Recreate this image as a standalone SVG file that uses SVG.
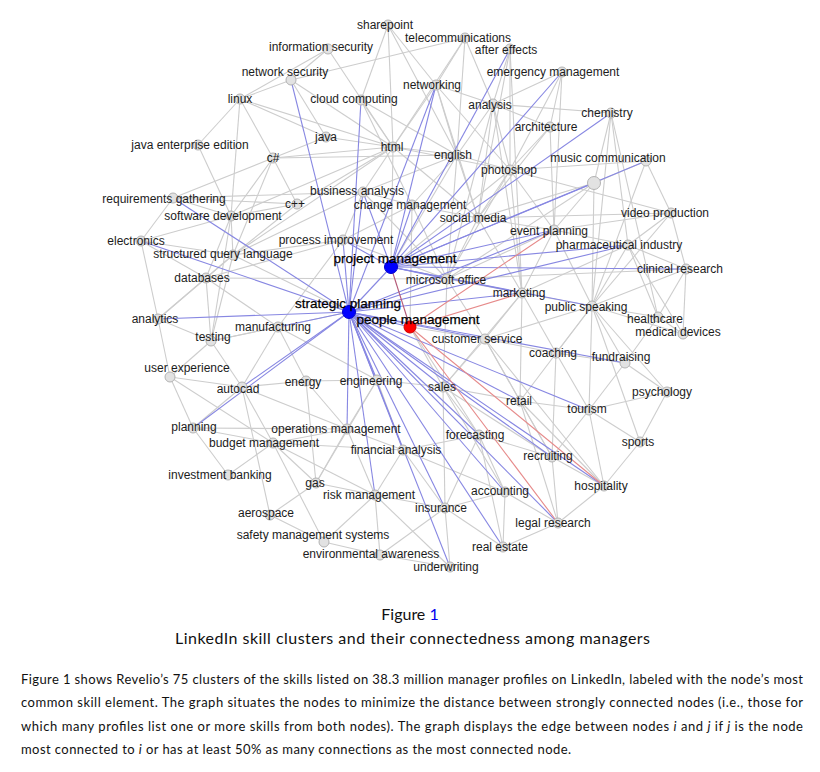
<svg xmlns="http://www.w3.org/2000/svg" width="820" height="772" viewBox="0 0 820 772">
<style>
.e path{stroke:#cdcdcd;stroke-width:1.1;fill:none}
.b path{stroke:#8787e2;stroke-width:1.1;fill:none}
.r path{stroke:#e68a8a;stroke-width:1.1;fill:none}
.n circle{fill:#e2e2e2;stroke:#b3b3b3;stroke-width:1}
.n text{font-family:"Liberation Sans",Arial,sans-serif;font-size:12px;fill:#1c1c1c;text-anchor:middle}
.hub text{font-size:13.5px;fill:#000;stroke:#000;stroke-width:0.25}
.cap{font-family:Lato,"Open Sans",sans-serif;fill:#111}
</style>
<rect width="820" height="772" fill="#fff"/>
<g id="connectors">
<g class="e">
<path d="M388 25L436 85"/><path d="M388 25L393 147"/><path d="M388 25L361 100"/><path d="M388 25L457 155"/>
<path d="M465 38L291 80"/><path d="M465 38L436 85"/><path d="M465 38L493 104"/><path d="M465 38L457 155"/><path d="M465 38L393 147"/>
<path d="M328 49L240 99"/><path d="M328 49L291 80"/><path d="M328 49L393 147"/>
<path d="M291 80L240 99"/><path d="M291 80L393 147"/><path d="M291 80L326 137"/>
<path d="M240 99L198 145"/><path d="M240 99L273 158"/><path d="M240 99L326 137"/><path d="M240 99L393 147"/><path d="M240 99L231 216"/>
<path d="M361 100L393 147"/><path d="M361 100L457 155"/><path d="M361 100L412 205"/>
<path d="M326 137L393 147"/><path d="M326 137L273 158"/><path d="M198 145L231 216"/>
<path d="M393 147L273 158"/><path d="M393 147L457 155"/><path d="M393 147L510 170"/><path d="M393 147L478 218"/><path d="M393 147L297 204"/><path d="M393 147L233 255"/><path d="M393 147L231 216"/><path d="M393 147L436 85"/><path d="M393 147L363 192"/>
<path d="M273 158L297 204"/><path d="M273 158L231 216"/><path d="M273 158L233 255"/><path d="M273 158L173 198"/><path d="M273 158L457 155"/>
<path d="M436 85L457 155"/><path d="M436 85L493 104"/><path d="M436 85L510 170"/><path d="M436 85L478 218"/>
<path d="M510 49L510 170"/><path d="M510 49L493 104"/><path d="M510 49L478 218"/><path d="M510 49L522 293"/>
<path d="M562 72L550 127"/><path d="M562 72L493 104"/><path d="M562 72L554 230"/><path d="M562 72L510 170"/>
<path d="M493 104L611 113"/><path d="M493 104L550 127"/><path d="M493 104L457 155"/><path d="M493 104L510 170"/><path d="M493 104L522 293"/><path d="M493 104L447 279"/><path d="M493 104L478 218"/>
<path d="M550 127L510 170"/><path d="M550 127L554 230"/><path d="M550 127L478 218"/>
<path d="M611 113L628 245"/><path d="M611 113L594 183"/><path d="M611 113L592 306"/><path d="M611 113L658 317"/>
<path d="M646 161L594 183"/><path d="M646 161L671 213"/><path d="M646 161L592 306"/><path d="M646 161L510 170"/>
<path d="M594 183L592 306"/><path d="M594 183L554 230"/><path d="M594 183L447 279"/><path d="M594 183L478 218"/>
<path d="M510 170L457 155"/><path d="M510 170L478 218"/><path d="M510 170L554 230"/><path d="M510 170L522 293"/><path d="M510 170L447 279"/><path d="M510 170L671 213"/>
<path d="M457 155L478 218"/><path d="M457 155L412 205"/><path d="M457 155L447 279"/><path d="M457 155L363 192"/>
<path d="M363 192L412 205"/><path d="M363 192L343 240"/><path d="M363 192L233 255"/><path d="M363 192L173 198"/><path d="M363 192L447 279"/>
<path d="M297 204L231 216"/><path d="M297 204L233 255"/><path d="M297 204L173 198"/>
<path d="M412 205L343 240"/><path d="M412 205L478 218"/><path d="M412 205L447 279"/><path d="M412 205L410 327"/>
<path d="M231 216L173 198"/><path d="M231 216L233 255"/><path d="M231 216L206 278"/><path d="M231 216L141 241"/><path d="M231 216L211 341"/>
<path d="M478 218L554 230"/><path d="M478 218L522 293"/><path d="M478 218L447 279"/>
<path d="M671 213L686 269"/><path d="M671 213L628 245"/><path d="M671 213L592 306"/><path d="M671 213L554 230"/><path d="M671 213L478 218"/>
<path d="M554 230L628 245"/><path d="M554 230L522 293"/><path d="M554 230L592 306"/><path d="M554 230L447 279"/>
<path d="M141 241L233 255"/><path d="M141 241L173 198"/><path d="M141 241L206 278"/><path d="M141 241L158 319"/>
<path d="M343 240L233 255"/><path d="M343 240L447 279"/><path d="M343 240L278 327"/><path d="M343 240L206 278"/>
<path d="M628 245L686 269"/><path d="M628 245L683 334"/><path d="M628 245L658 317"/><path d="M628 245L592 306"/><path d="M628 245L522 293"/>
<path d="M233 255L206 278"/><path d="M233 255L158 319"/><path d="M233 255L211 341"/>
<path d="M686 269L658 317"/><path d="M686 269L683 334"/><path d="M686 269L592 306"/><path d="M686 269L447 279"/>
<path d="M206 278L158 319"/><path d="M206 278L211 341"/><path d="M206 278L278 327"/><path d="M206 278L447 279"/>
<path d="M447 279L522 293"/><path d="M447 279L485 339"/><path d="M447 279L443 387"/>
<path d="M522 293L485 339"/><path d="M522 293L592 306"/><path d="M522 293L443 387"/><path d="M522 293L556 353"/><path d="M522 293L520 401"/>
<path d="M592 306L556 353"/><path d="M592 306L625 363"/><path d="M592 306L658 317"/><path d="M592 306L667 392"/><path d="M592 306L640 442"/><path d="M592 306L589 410"/><path d="M592 306L485 339"/><path d="M592 306L683 334"/><path d="M592 306L520 401"/>
<path d="M658 317L683 334"/><path d="M658 317L625 363"/>
<path d="M158 319L211 341"/><path d="M158 319L170 377"/>
<path d="M278 327L211 341"/><path d="M278 327L377 380"/><path d="M278 327L242 387"/><path d="M278 327L306 381"/>
<path d="M211 341L170 377"/><path d="M211 341L242 387"/>
<path d="M485 339L443 387"/><path d="M485 339L556 353"/><path d="M485 339L520 401"/><path d="M485 339L552 457"/><path d="M485 339L604 486"/>
<path d="M556 353L625 363"/><path d="M556 353L589 410"/><path d="M556 353L552 457"/>
<path d="M625 363L667 392"/><path d="M625 363L589 410"/>
<path d="M170 377L242 387"/><path d="M170 377L193 428"/><path d="M170 377L273 443"/>
<path d="M242 387L306 381"/><path d="M242 387L193 428"/><path d="M242 387L273 443"/><path d="M242 387L347 429"/><path d="M242 387L270 515"/>
<path d="M306 381L377 380"/><path d="M306 381L316 483"/><path d="M306 381L347 429"/>
<path d="M377 380L347 429"/><path d="M377 380L403 450"/><path d="M377 380L443 387"/><path d="M377 380L316 483"/>
<path d="M443 387L520 401"/><path d="M443 387L479 435"/><path d="M443 387L552 457"/><path d="M443 387L505 492"/><path d="M443 387L445 508"/>
<path d="M667 392L589 410"/><path d="M667 392L640 442"/>
<path d="M520 401L589 410"/><path d="M520 401L552 457"/><path d="M520 401L604 486"/><path d="M520 401L558 523"/>
<path d="M589 410L640 442"/><path d="M589 410L604 486"/><path d="M589 410L552 457"/>
<path d="M193 428L273 443"/><path d="M193 428L228 475"/><path d="M193 428L347 429"/>
<path d="M347 429L403 450"/><path d="M347 429L273 443"/><path d="M347 429L316 483"/><path d="M347 429L375 495"/>
<path d="M479 435L403 450"/><path d="M479 435L505 492"/><path d="M479 435L552 457"/><path d="M479 435L445 508"/><path d="M479 435L503 547"/>
<path d="M640 442L604 486"/>
<path d="M273 443L403 450"/><path d="M273 443L228 475"/><path d="M273 443L316 483"/><path d="M273 443L375 495"/><path d="M273 443L324 542"/>
<path d="M403 450L375 495"/><path d="M403 450L505 492"/><path d="M403 450L445 508"/>
<path d="M552 457L604 486"/><path d="M552 457L558 523"/>
<path d="M316 483L270 515"/><path d="M316 483L375 495"/>
<path d="M604 486L558 523"/>
<path d="M505 492L445 508"/><path d="M505 492L558 523"/><path d="M505 492L503 547"/>
<path d="M375 495L445 508"/><path d="M375 495L380 555"/><path d="M375 495L324 542"/><path d="M375 495L450 567"/>
<path d="M445 508L450 567"/><path d="M445 508L503 547"/><path d="M445 508L380 555"/>
<path d="M270 515L324 542"/><path d="M324 542L380 555"/><path d="M380 555L450 567"/><path d="M503 547L558 523"/>
<path d="M349 312L211 341"/><path d="M349 312L233 255"/><path d="M410 327L485 339"/><path d="M410 327L443 387"/><path d="M410 327L479 435"/>
<path d="M391 267L393 147"/><path d="M391 267L457 155"/><path d="M391 267L510 170"/>
</g>
<g class="b">
<path d="M349 312L291 80"/><path d="M349 312L361 100"/><path d="M349 312L173 198"/><path d="M349 312L141 241"/><path d="M349 312L158 319"/><path d="M349 312L193 428"/><path d="M349 312L242 387"/><path d="M349 312L278 327"/><path d="M349 312L625 363"/><path d="M349 312L347 429"/><path d="M349 312L403 450"/><path d="M349 312L375 495"/><path d="M349 312L445 508"/><path d="M349 312L505 492"/><path d="M349 312L503 547"/><path d="M349 312L558 523"/><path d="M349 312L552 457"/><path d="M349 312L604 486"/><path d="M349 312L520 401"/><path d="M349 312L443 387"/><path d="M349 312L479 435"/><path d="M349 312L377 380"/><path d="M349 312L485 339"/><path d="M349 312L522 293"/><path d="M349 312L447 279"/><path d="M349 312L343 240"/><path d="M349 312L363 192"/><path d="M349 312L436 85"/><path d="M349 312L391 267"/><path d="M349 312L410 327"/><path d="M349 312L628 245"/><path d="M349 312L554 230"/><path d="M349 312L450 567"/><path d="M349 312L589 410"/>
<path d="M391 267L510 49"/><path d="M391 267L562 72"/><path d="M391 267L611 113"/><path d="M391 267L594 183"/><path d="M391 267L436 85"/><path d="M391 267L554 230"/><path d="M391 267L628 245"/><path d="M391 267L686 269"/><path d="M391 267L478 218"/><path d="M391 267L412 205"/><path d="M391 267L363 192"/><path d="M391 267L447 279"/><path d="M391 267L343 240"/><path d="M391 267L522 293"/><path d="M391 267L592 306"/><path d="M391 267L646 161"/>
</g>
<g class="r">
<path d="M391 267L410 327" style="stroke:#b45a78"/><path d="M410 327L554 230"/><path d="M410 327L522 293"/><path d="M410 327L558 523"/><path d="M410 327L604 486"/>
</g>
</g>
<g id="nodes" class="n">
<g id="n-sharepoint"><circle cx="388" cy="25" r="5"/><text x="385" y="29">sharepoint</text></g>
<g id="n-telecommunications"><circle cx="465" cy="38" r="5"/><text x="458" y="42">telecommunications</text></g>
<g id="n-information-security"><circle cx="328" cy="49" r="5"/><text x="321" y="51">information security</text></g>
<g id="n-after-effects"><circle cx="510" cy="49" r="5"/><text x="506" y="54">after effects</text></g>
<g id="n-network-security"><circle cx="291" cy="80" r="5"/><text x="285" y="76">network security</text></g>
<g id="n-emergency-management"><circle cx="562" cy="72" r="5"/><text x="553" y="76">emergency management</text></g>
<g id="n-networking"><circle cx="436" cy="85" r="5"/><text x="432" y="89">networking</text></g>
<g id="n-linux"><circle cx="240" cy="99" r="5"/><text x="240" y="103">linux</text></g>
<g id="n-cloud-computing"><circle cx="361" cy="100" r="5"/><text x="354" y="103">cloud computing</text></g>
<g id="n-analysis"><circle cx="493" cy="104" r="5"/><text x="490" y="109">analysis</text></g>
<g id="n-chemistry"><circle cx="611" cy="113" r="5"/><text x="607" y="117">chemistry</text></g>
<g id="n-architecture"><circle cx="550" cy="127" r="5"/><text x="546" y="131">architecture</text></g>
<g id="n-java"><circle cx="326" cy="137" r="5"/><text x="326" y="141">java</text></g>
<g id="n-java-enterprise-edition"><circle cx="198" cy="145" r="5"/><text x="190" y="149">java enterprise edition</text></g>
<g id="n-html"><circle cx="393" cy="147" r="5"/><text x="392" y="151">html</text></g>
<g id="n-csharp"><circle cx="273" cy="158" r="5"/><text x="273" y="162">c#</text></g>
<g id="n-english"><circle cx="457" cy="155" r="5"/><text x="453" y="159">english</text></g>
<g id="n-music-communication"><circle cx="646" cy="161" r="5"/><text x="608" y="162">music communication</text></g>
<g id="n-photoshop"><circle cx="510" cy="170" r="5"/><text x="509" y="174">photoshop</text></g>
<g id="n-unlabeled"><circle cx="594" cy="183" r="6.5"/></g>
<g id="n-business-analysis"><circle cx="363" cy="192" r="5"/><text x="357" y="195">business analysis</text></g>
<g id="n-requirements-gathering"><circle cx="173" cy="198" r="5"/><text x="164" y="203">requirements gathering</text></g>
<g id="n-cpp"><circle cx="297" cy="204" r="5"/><text x="295" y="208">c++</text></g>
<g id="n-change-management"><circle cx="412" cy="205" r="5"/><text x="410" y="209">change management</text></g>
<g id="n-software-development"><circle cx="231" cy="216" r="5"/><text x="223" y="220">software development</text></g>
<g id="n-social-media"><circle cx="478" cy="218" r="5"/><text x="473" y="222">social media</text></g>
<g id="n-video-production"><circle cx="671" cy="213" r="5"/><text x="665" y="217">video production</text></g>
<g id="n-event-planning"><circle cx="554" cy="230" r="5"/><text x="549" y="235">event planning</text></g>
<g id="n-electronics"><circle cx="141" cy="241" r="5"/><text x="136" y="245">electronics</text></g>
<g id="n-process-improvement"><circle cx="343" cy="240" r="5"/><text x="336" y="244">process improvement</text></g>
<g id="n-pharmaceutical-industry"><circle cx="628" cy="245" r="5"/><text x="619" y="249">pharmaceutical industry</text></g>
<g id="n-structured-query-language"><circle cx="233" cy="255" r="5"/><text x="223" y="258">structured query language</text></g>
<g id="n-clinical-research"><circle cx="686" cy="269" r="5"/><text x="680" y="273">clinical research</text></g>
<g id="n-databases"><circle cx="206" cy="278" r="5"/><text x="202" y="282">databases</text></g>
<g id="n-microsoft-office"><circle cx="447" cy="279" r="5"/><text x="446" y="284">microsoft office</text></g>
<g id="n-marketing"><circle cx="522" cy="293" r="5"/><text x="519" y="297">marketing</text></g>
<g id="n-public-speaking"><circle cx="592" cy="306" r="5"/><text x="586" y="311">public speaking</text></g>
<g id="n-analytics"><circle cx="158" cy="319" r="5"/><text x="155" y="323">analytics</text></g>
<g id="n-healthcare"><circle cx="658" cy="317" r="5"/><text x="655" y="323">healthcare</text></g>
<g id="n-manufacturing"><circle cx="278" cy="327" r="5"/><text x="273" y="331">manufacturing</text></g>
<g id="n-medical-devices"><circle cx="683" cy="334" r="5"/><text x="678" y="336">medical devices</text></g>
<g id="n-testing"><circle cx="211" cy="341" r="5"/><text x="213" y="341">testing</text></g>
<g id="n-customer-service"><circle cx="485" cy="339" r="5"/><text x="477" y="343">customer service</text></g>
<g id="n-coaching"><circle cx="556" cy="353" r="5"/><text x="553" y="357">coaching</text></g>
<g id="n-fundraising"><circle cx="625" cy="363" r="5"/><text x="621" y="361">fundraising</text></g>
<g id="n-user-experience"><circle cx="170" cy="377" r="5"/><text x="187" y="372">user experience</text></g>
<g id="n-autocad"><circle cx="242" cy="387" r="5"/><text x="238" y="393">autocad</text></g>
<g id="n-energy"><circle cx="306" cy="381" r="5"/><text x="303" y="386">energy</text></g>
<g id="n-engineering"><circle cx="377" cy="380" r="5"/><text x="371" y="385">engineering</text></g>
<g id="n-sales"><circle cx="443" cy="387" r="5"/><text x="442" y="391">sales</text></g>
<g id="n-psychology"><circle cx="667" cy="392" r="5"/><text x="662" y="396">psychology</text></g>
<g id="n-retail"><circle cx="520" cy="401" r="5"/><text x="519" y="405">retail</text></g>
<g id="n-tourism"><circle cx="589" cy="410" r="5"/><text x="587" y="413">tourism</text></g>
<g id="n-planning"><circle cx="193" cy="428" r="5"/><text x="194" y="431">planning</text></g>
<g id="n-operations-management"><circle cx="347" cy="429" r="5"/><text x="336" y="433">operations management</text></g>
<g id="n-forecasting"><circle cx="479" cy="435" r="5"/><text x="475" y="439">forecasting</text></g>
<g id="n-sports"><circle cx="640" cy="442" r="5"/><text x="638" y="446">sports</text></g>
<g id="n-budget-management"><circle cx="273" cy="443" r="5"/><text x="264" y="447">budget management</text></g>
<g id="n-financial-analysis"><circle cx="403" cy="450" r="5"/><text x="396" y="454">financial analysis</text></g>
<g id="n-recruiting"><circle cx="552" cy="457" r="5"/><text x="548" y="460">recruiting</text></g>
<g id="n-investment-banking"><circle cx="228" cy="475" r="5"/><text x="220" y="479">investment banking</text></g>
<g id="n-gas"><circle cx="316" cy="483" r="5"/><text x="315" y="487">gas</text></g>
<g id="n-hospitality"><circle cx="604" cy="486" r="5"/><text x="601" y="490">hospitality</text></g>
<g id="n-accounting"><circle cx="505" cy="492" r="5"/><text x="500" y="495">accounting</text></g>
<g id="n-risk-management"><circle cx="375" cy="495" r="5"/><text x="369" y="499">risk management</text></g>
<g id="n-insurance"><circle cx="445" cy="508" r="5"/><text x="441" y="512">insurance</text></g>
<g id="n-aerospace"><circle cx="270" cy="515" r="5"/><text x="266" y="517">aerospace</text></g>
<g id="n-legal-research"><circle cx="558" cy="523" r="5"/><text x="553" y="527">legal research</text></g>
<g id="n-safety-management-systems"><circle cx="324" cy="542" r="5"/><text x="313" y="539">safety management systems</text></g>
<g id="n-real-estate"><circle cx="503" cy="547" r="5"/><text x="500" y="551">real estate</text></g>
<g id="n-environmental-awareness"><circle cx="380" cy="555" r="5"/><text x="371" y="558">environmental awareness</text></g>
<g id="n-underwriting"><circle cx="450" cy="567" r="5"/><text x="446" y="571">underwriting</text></g>
<g id="n-project-management" class="hub"><circle cx="391" cy="267" r="6.5" style="fill:#0000ff;stroke:#0000cc"/><text x="395" y="263">project management</text></g>
<g id="n-strategic-planning" class="hub"><circle cx="349" cy="312" r="6.5" style="fill:#0000ff;stroke:#0000cc"/><text x="348" y="308">strategic planning</text></g>
<g id="n-people-management" class="hub"><circle cx="410" cy="327" r="6" style="fill:#ff0000;stroke:#cc0000"/><text x="418" y="324">people management</text></g>
</g>
<g id="caption" class="cap">
<text x="410" y="620" font-size="16" text-anchor="middle">Figure <tspan fill="#0000ee">1</tspan></text>
<text x="175" y="644" font-size="16" textLength="475" lengthAdjust="spacing">LinkedIn skill clusters and their connectedness among managers</text>
<text x="21" y="684" font-size="13" textLength="782" lengthAdjust="spacing">Figure 1 shows Revelio’s 75 clusters of the skills listed on 38.3 million manager profiles on LinkedIn, labeled with the node’s most</text>
<text x="21" y="707" font-size="13" textLength="782" lengthAdjust="spacing">common skill element. The graph situates the nodes to minimize the distance between strongly connected nodes (i.e., those for</text>
<text x="21" y="731" font-size="13" textLength="782" lengthAdjust="spacing">which many profiles list one or more skills from both nodes). The graph displays the edge between nodes <tspan font-style="italic">i</tspan> and <tspan font-style="italic">j</tspan> if <tspan font-style="italic">j</tspan> is the node</text>
<text x="21" y="754" font-size="13" textLength="550" lengthAdjust="spacing">most connected to <tspan font-style="italic">i</tspan> or has at least 50% as many connections as the most connected node.</text>
</g>
</svg>
